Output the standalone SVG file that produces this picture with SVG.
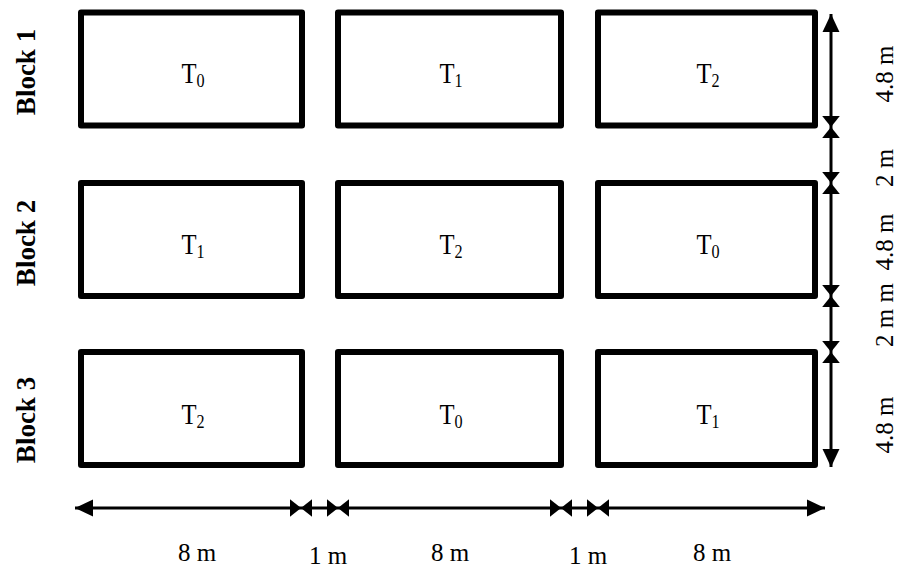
<svg xmlns="http://www.w3.org/2000/svg" width="904" height="570" viewBox="0 0 904 570">
<style>
.plot{fill:#fff;stroke:#000;stroke-width:6;stroke-linejoin:round}
.t{font-family:"Liberation Serif","Times New Roman",serif;font-size:29px;fill:#000;text-anchor:middle}
.t tspan{font-size:19px}
.dim{font-family:"Liberation Serif","Times New Roman",serif;font-size:25px;fill:#000;text-anchor:middle}
.blk{font-family:"Liberation Serif","Times New Roman",serif;font-size:27px;font-weight:bold;fill:#000;text-anchor:middle}
.ln{stroke:#000;stroke-width:3;fill:none}
</style>
<defs>
<marker id="big" markerUnits="userSpaceOnUse" markerWidth="18" markerHeight="18" viewBox="0 0 17 16" refX="17" refY="8" orient="auto-start-reverse"><path d="M0,0L17,8L0,16Z" fill="#000"/></marker>
<marker id="sm" markerUnits="userSpaceOnUse" markerWidth="11" markerHeight="18" viewBox="0 0 10 16" refX="10" refY="8" orient="auto-start-reverse"><path d="M0,0L10,8L0,16Z" fill="#000"/></marker>
</defs>
<g id="labels">
<text class="blk" transform="translate(35,72) rotate(-90)">Block 1</text>
<text class="blk" transform="translate(35,243) rotate(-90)">Block 2</text>
<text class="blk" transform="translate(35,420) rotate(-90)">Block 3</text>
</g>
<g id="r1c1"><rect class="plot" x="81" y="12.5" width="221" height="113"/><text class="t" transform="translate(193,83) scale(0.85,1)">T<tspan dy="4">0</tspan></text></g>
<g id="r1c2"><rect class="plot" x="338" y="12.5" width="223" height="113"/><text class="t" transform="translate(451,83) scale(0.85,1)">T<tspan dy="4">1</tspan></text></g>
<g id="r1c3"><rect class="plot" x="598" y="12.5" width="217" height="113"/><text class="t" transform="translate(708,83) scale(0.85,1)">T<tspan dy="4">2</tspan></text></g>
<g id="r2c1"><rect class="plot" x="81" y="183" width="221" height="113"/><text class="t" transform="translate(193,254) scale(0.85,1)">T<tspan dy="4">1</tspan></text></g>
<g id="r2c2"><rect class="plot" x="338" y="183" width="223" height="113"/><text class="t" transform="translate(451,254) scale(0.85,1)">T<tspan dy="4">2</tspan></text></g>
<g id="r2c3"><rect class="plot" x="598" y="183" width="217" height="113"/><text class="t" transform="translate(708,254) scale(0.85,1)">T<tspan dy="4">0</tspan></text></g>
<g id="r3c1"><rect class="plot" x="81" y="352" width="221" height="113"/><text class="t" transform="translate(193,424) scale(0.85,1)">T<tspan dy="4">2</tspan></text></g>
<g id="r3c2"><rect class="plot" x="338" y="352" width="223" height="113"/><text class="t" transform="translate(451,424) scale(0.85,1)">T<tspan dy="4">0</tspan></text></g>
<g id="r3c3"><rect class="plot" x="598" y="352" width="217" height="113"/><text class="t" transform="translate(708,424) scale(0.85,1)">T<tspan dy="4">1</tspan></text></g>
<g id="connectors">
<line class="ln" x1="75" y1="508" x2="301" y2="508" marker-start="url(#big)" marker-end="url(#sm)"/>
<line class="ln" x1="301" y1="508" x2="338" y2="508" marker-start="url(#sm)" marker-end="url(#sm)"/>
<line class="ln" x1="338" y1="508" x2="561" y2="508" marker-start="url(#sm)" marker-end="url(#sm)"/>
<line class="ln" x1="561" y1="508" x2="598" y2="508" marker-start="url(#sm)" marker-end="url(#sm)"/>
<line class="ln" x1="598" y1="508" x2="825" y2="508" marker-start="url(#sm)" marker-end="url(#big)"/>
<line class="ln" x1="831" y1="14" x2="831" y2="127" marker-start="url(#big)" marker-end="url(#sm)"/>
<line class="ln" x1="831" y1="127" x2="831" y2="183" marker-start="url(#sm)" marker-end="url(#sm)"/>
<line class="ln" x1="831" y1="183" x2="831" y2="296" marker-start="url(#sm)" marker-end="url(#sm)"/>
<line class="ln" x1="831" y1="296" x2="831" y2="352" marker-start="url(#sm)" marker-end="url(#sm)"/>
<line class="ln" x1="831" y1="352" x2="831" y2="467" marker-start="url(#sm)" marker-end="url(#big)"/>
</g>
<g id="dims">
<text class="dim" x="197" y="561">8 m</text>
<text class="dim" x="328" y="564">1 m</text>
<text class="dim" x="450" y="561">8 m</text>
<text class="dim" x="588" y="564">1 m</text>
<text class="dim" x="712" y="561">8 m</text>
<text class="dim" transform="translate(893,74) rotate(-90)">4.8 m</text>
<text class="dim" transform="translate(893,168) rotate(-90)">2 m</text>
<text class="dim" transform="translate(893,242) rotate(-90)">4.8 m</text>
<text class="dim" transform="translate(893,315) rotate(-90)">2 m m</text>
<text class="dim" transform="translate(893,425) rotate(-90)">4.8 m</text>
</g>
</svg>
